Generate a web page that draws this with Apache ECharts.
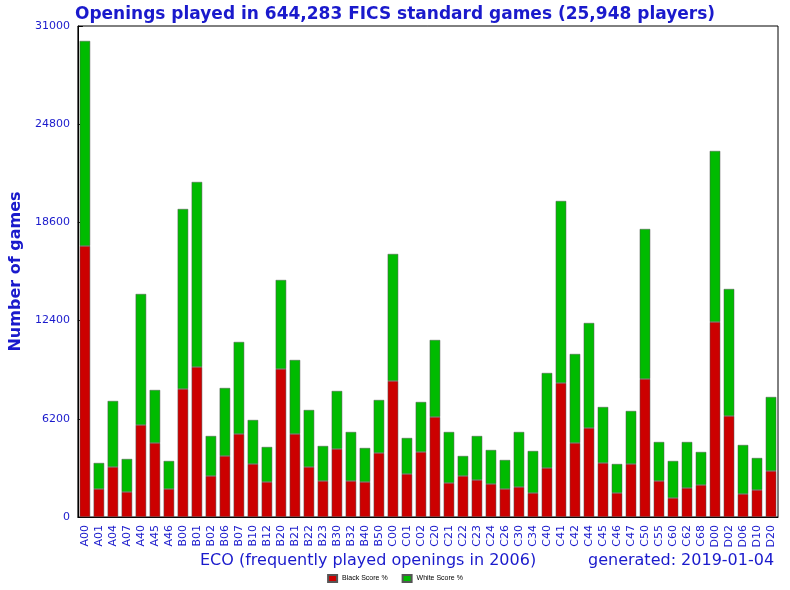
<!DOCTYPE html><html><head><meta charset="utf-8"><script src="https://cdn.jsdelivr.net/npm/echarts@6/dist/echarts.min.js"></script></head><body style="margin:0"><div id="c" style="width:790px;height:590px"></div><script>
const categories=["A00","A01","A04","A07","A40","A45","A46","B00","B01","B02","B06","B07","B10","B12","B20","B21","B22","B23","B30","B32","B40","B50","C00","C01","C02","C20","C21","C22","C23","C24","C26","C30","C34","C40","C41","C42","C44","C45","C46","C47","C50","C55","C60","C62","C68","D00","D02","D06","D10","D20"];
const totals=[30055,3410,7324,3662,14080,8019,3536,19447,21152,5114,8145,11050,6125,4420,14964,9913,6756,4483,7956,5367,4357,7387,16606,4988,7261,11176,5367,3852,5114,4230,3599,5367,4167,9092,19952,10292,12249,6945,3346,6693,18184,4735,3536,4735,4104,23109,14396,4546,3725,7577];
const blackScore=[17111,1768,3157,1579,5809,4672,1768,8082,9471,2589,3852,5241,3346,2210,9345,5241,3157,2273,4294,2273,2210,4041,8587,2715,4104,6314,2147,2589,2336,2084,1768,1894,1515,3094,8461,4672,5619,3410,1515,3346,8713,2273,1200,1831,2020,12312,6377,1452,1705,2904];
const whiteScore=totals.map((t,i)=>t-blackScore[i]);
const yTicks=[0,6200,12400,18600,24800,31000];
const blue='#1a1acc';
const ch=echarts.init(document.getElementById('c'));
ch.setOption({animation:false,backgroundColor:'#fff',
title:{text:'Openings played in 644,283 FICS standard games (25,948 players)',left:'center',top:1,textStyle:{color:blue,fontSize:17,fontWeight:'bold',fontFamily:'DejaVu Sans'}},
legend:{bottom:2,left:'center',icon:'rect',itemWidth:9,itemHeight:7,itemGap:14,textStyle:{fontSize:7,color:'#000'},data:['Black Score %','White Score %']},
grid:{left:72,right:12,top:26,bottom:73,show:true,borderColor:'#000',borderWidth:1},
xAxis:{type:'category',data:categories,axisLabel:{rotate:90,color:blue,fontSize:11,interval:0,fontFamily:'DejaVu Sans'},axisTick:{show:false},axisLine:{lineStyle:{color:'#000'}}},
yAxis:{type:'value',min:yTicks[0],max:yTicks[yTicks.length-1],interval:6200,name:'Number of games',nameLocation:'middle',nameGap:52,nameTextStyle:{color:blue,fontSize:16,fontWeight:'bold',fontFamily:'DejaVu Sans'},axisLabel:{color:blue,fontSize:11,fontFamily:'DejaVu Sans',formatter:v=>String(v)},splitLine:{show:false},axisLine:{show:true,lineStyle:{color:'#000'}},axisTick:{show:true,inside:true}},
graphic:[{type:'text',left:200,top:553,style:{text:'ECO (frequently played openings in 2006)',fill:blue,font:'16px DejaVu Sans'}},{type:'text',left:588,top:553,style:{text:'generated: 2019-01-04',fill:blue,font:'16px DejaVu Sans'}}],
series:[{name:'Black Score %',type:'bar',stack:'a',data:blackScore,barWidth:'75%',itemStyle:{color:'#cc0000',borderColor:'#555',borderWidth:0.5}},
{name:'White Score %',type:'bar',stack:'a',data:whiteScore,itemStyle:{color:'#00bb00',borderColor:'#555',borderWidth:0.5}}]});
</script></body></html>
